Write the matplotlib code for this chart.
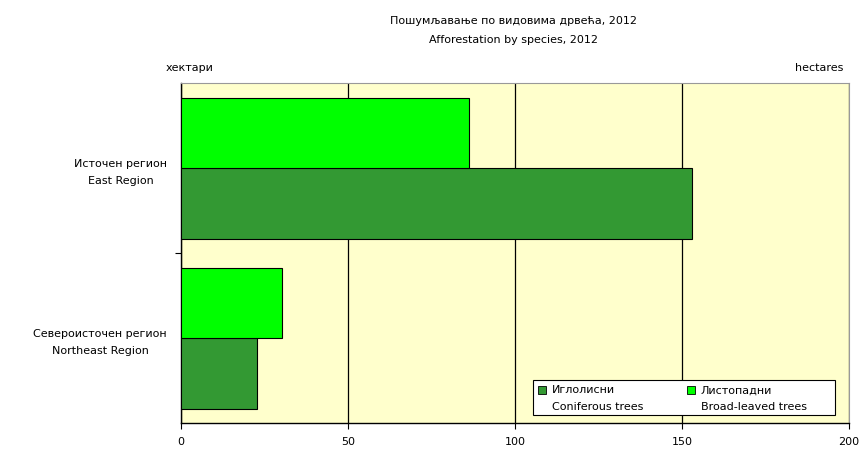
import matplotlib.pyplot as plt
from matplotlib.patches import Rectangle

regions = ['Североисточен регион\nNortheast Region', 'Источен регион\nEast Region']
coniferous = [22.7, 153.0]
broadleaved = [30.2, 86.2]
x_ticks = [0, 50, 100, 150, 200]

dark_green = '#339933'
light_green = '#00ff00'
fs = 8

fig = plt.figure(figsize=(8.61, 4.57), dpi=100)
ax = fig.add_axes([0.210, 0.074, 0.776, 0.744])
ax.set_facecolor('#ffffcc')

pos = list(range(len(regions)))
h = 0.414
ax.barh([p - h / 2 for p in pos], coniferous, height=h, color=dark_green,
        edgecolor='black', linewidth=0.8, zorder=3)
ax.barh([p + h / 2 for p in pos], broadleaved, height=h, color=light_green,
        edgecolor='black', linewidth=0.8, zorder=3)

ax.set_xlim(0, 200)
ax.set_ylim(-0.5, 1.5)
ax.set_xticks(x_ticks)
ax.set_xticklabels([str(t) for t in x_ticks], fontsize=fs)
ax.xaxis.grid(True, color='black', linewidth=0.9, zorder=1)
ax.set_axisbelow(True)

ax.set_yticks([0.5])
ax.set_yticklabels([''])
ax.set_yticks(pos, minor=True)
ax.set_yticklabels(regions, minor=True, fontsize=fs, ha='right',
                   multialignment='center', linespacing=1.8)
ax.tick_params(axis='y', which='minor', length=0, pad=10)
ax.tick_params(axis='y', which='major', length=4, direction='out')
ax.tick_params(axis='x', length=4, direction='out', pad=6)

for s in ['top', 'right']:
    ax.spines[s].set_color('#999999')
for s in ['left', 'bottom']:
    ax.spines[s].set_color('black')
    ax.spines[s].set_linewidth(1.0)

fig.text(0.596, 0.955, 'Пошумљавање по видовима дрвећа, 2012', ha='center', va='center', fontsize=fs)
fig.text(0.596, 0.912, 'Afforestation by species, 2012', ha='center', va='center', fontsize=fs)
fig.text(0.192, 0.852, 'хектари', ha='left', va='center', fontsize=fs)
fig.text(0.980, 0.852, 'hectares', ha='right', va='center', fontsize=fs)

# legend drawn by hand so the swatches sit on the first line
box = Rectangle((0.527, 0.024), 0.452, 0.102, transform=ax.transAxes,
                facecolor='white', edgecolor='black', linewidth=0.8, zorder=5)
ax.add_patch(box)
entries = [(0.535, dark_green, 'Иглолисни', 'Coniferous trees'),
           (0.758, light_green, 'Листопадни', 'Broad-leaved trees')]
for x0, col, l1, l2 in entries:
    ax.add_patch(Rectangle((x0, 0.085), 0.012, 0.025, transform=ax.transAxes,
                           facecolor=col, edgecolor='black', linewidth=0.6, zorder=6))
    ax.text(x0 + 0.02, 0.097, l1, transform=ax.transAxes, fontsize=fs, va='center', zorder=6)
    ax.text(x0 + 0.02, 0.047, l2, transform=ax.transAxes, fontsize=fs, va='center', zorder=6)

fig.savefig('out.png', dpi=100)
